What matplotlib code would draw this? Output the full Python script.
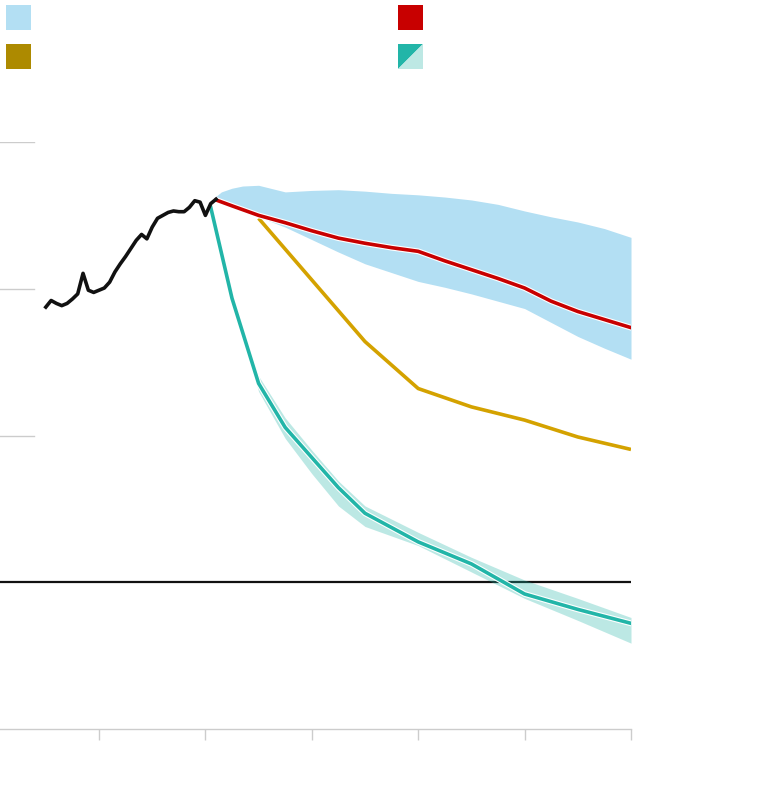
import numpy as np
import matplotlib
matplotlib.use("Agg")
import matplotlib.pyplot as plt
import matplotlib.patheffects as pe
from matplotlib.patches import Rectangle, Polygon

# === DATA ===
hist_years = list(range(1990, 2023))
hist_vals = [37.5, 38.4, 38.0, 37.7, 38.0, 38.6, 39.3, 42.1, 39.8, 39.5,
             39.8, 40.1, 40.9, 42.3, 43.4, 44.4, 45.5, 46.6, 47.4, 46.8,
             48.4, 49.6, 50.0, 50.4, 50.6, 50.5, 50.5, 51.1, 52.0, 51.8,
             50.0, 51.6, 52.2]

policy_years = [2022, 2025, 2030, 2035, 2040, 2045, 2050, 2055, 2060,
                2065, 2070, 2075, 2080, 2085, 2090, 2095, 2100]
policy_vals = [52.1, 51.3, 50.0, 49.0, 47.9, 46.9, 46.2, 45.6, 45.1,
               43.8, 42.6, 41.4, 40.1, 38.3, 36.9, 35.8, 34.7]

range_years = [2022, 2023, 2025, 2027, 2030, 2035, 2040, 2045, 2050, 2055,
               2060, 2065, 2070, 2075, 2080, 2085, 2090, 2095, 2100]
range_high = [52.6, 53.2, 53.7, 54.0, 54.1, 53.2, 53.4, 53.5, 53.3, 53.0,
              52.8, 52.5, 52.1, 51.5, 50.6, 49.8, 49.1, 48.2, 47.0]
range_low = [52.0, 51.9, 51.2, 50.7, 49.8, 48.4, 46.7, 45.0, 43.4, 42.2,
             41.0, 40.2, 39.3, 38.3, 37.3, 35.4, 33.5, 31.9, 30.4]

pledge_years = [2030, 2040, 2050, 2060, 2070, 2080, 2090, 2100]
pledge_vals = [49.6, 41.2, 32.8, 26.4, 23.9, 22.1, 19.8, 18.1]

path_years = [2021, 2025, 2030, 2035, 2040, 2045, 2050, 2060, 2070, 2080, 2090, 2100]
path_vals = [51.1, 38.7, 27.1, 21.1, 17.0, 12.9, 9.4, 5.5, 2.5, -1.6, -3.7, -5.6]

path_band_years = [2025, 2030, 2035, 2040, 2045, 2050, 2060, 2070, 2080, 2090, 2100]
path_band_high = [39.0, 28.1, 22.4, 18.0, 13.8, 10.4, 6.8, 3.4, 0.3, -2.2, -4.8]
path_band_low = [38.4, 26.0, 19.6, 14.8, 10.4, 7.6, 5.0, 1.4, -2.2, -5.2, -8.3]

grid_vals = [20, 40, 60]
x_ticks = [2000, 2020, 2040, 2060, 2080, 2100]

# === STYLE ===
light_blue = '#B3DFF3'
red = '#C80000'
gold_line = '#D4A200'
gold_box = '#AD8A00'
teal = '#22B5A8'
light_teal = '#BDE8E4'
grid_grey = '#CCCCCC'
lw = 2.6

W, H = 760, 798
fig = plt.figure(figsize=(W / 100, H / 100), dpi=100)
ax = fig.add_axes([0, (H - 729) / H, 631 / W, (729 - 142) / H])

halo = [pe.Stroke(linewidth=lw + 1.6, foreground='white'), pe.Normal()]

ax.fill_between(range_years, range_low, range_high, color=light_blue, lw=0, zorder=2)
ax.plot(pledge_years, pledge_vals, color=gold_line, lw=lw, zorder=3,
        solid_capstyle='butt')
ax.plot(policy_years, policy_vals, color=red, lw=lw, zorder=4,
        path_effects=halo, solid_joinstyle='round')

ax.axhline(0, color='#111111', lw=1.6, zorder=1)
ax.fill_between(path_band_years, path_band_low, path_band_high, color=teal,
                alpha=0.3, lw=0, zorder=5)
ax.plot(path_years, path_vals, color=teal, lw=lw, zorder=6,
        path_effects=halo, solid_joinstyle='round')

ax.plot(hist_years, hist_vals, color='#111111', lw=lw, zorder=7,
        solid_joinstyle='round')

for g in grid_vals:
    ax.axhline(g, xmin=0, xmax=34 / 631, color=grid_grey, lw=1, zorder=0)

ax.set_xlim(2000 - 99 / 5.32, 2100)
ax.set_ylim(-20, 60)

for side in ['top', 'right', 'left']:
    ax.spines[side].set_visible(False)
ax.spines['bottom'].set_color(grid_grey)
ax.spines['bottom'].set_linewidth(1)
ax.set_xticks(x_ticks)
ax.set_xticklabels([])
ax.set_yticks([])
ax.tick_params(axis='x', direction='out', length=8, width=1, color=grid_grey)
ax.patch.set_alpha(0)

# legend boxes (figure pixels)
def box(x, y, color):
    fig.add_artist(Rectangle((x / W, (H - y - 25) / H), 25 / W, 25 / H,
                             transform=fig.transFigure, color=color, lw=0))

box(6, 5, light_blue)
box(6, 44, gold_box)
box(398, 5, red)

def px(x, y):
    return (x / W, (H - y) / H)

fig.add_artist(Polygon([px(398, 44), px(423, 44), px(398, 69)], closed=True,
                       transform=fig.transFigure, color=teal, lw=0))
fig.add_artist(Polygon([px(423, 44), px(423, 69), px(398, 69)], closed=True,
                       transform=fig.transFigure, color=light_teal, lw=0))

fig.savefig('out.png', dpi=100)
